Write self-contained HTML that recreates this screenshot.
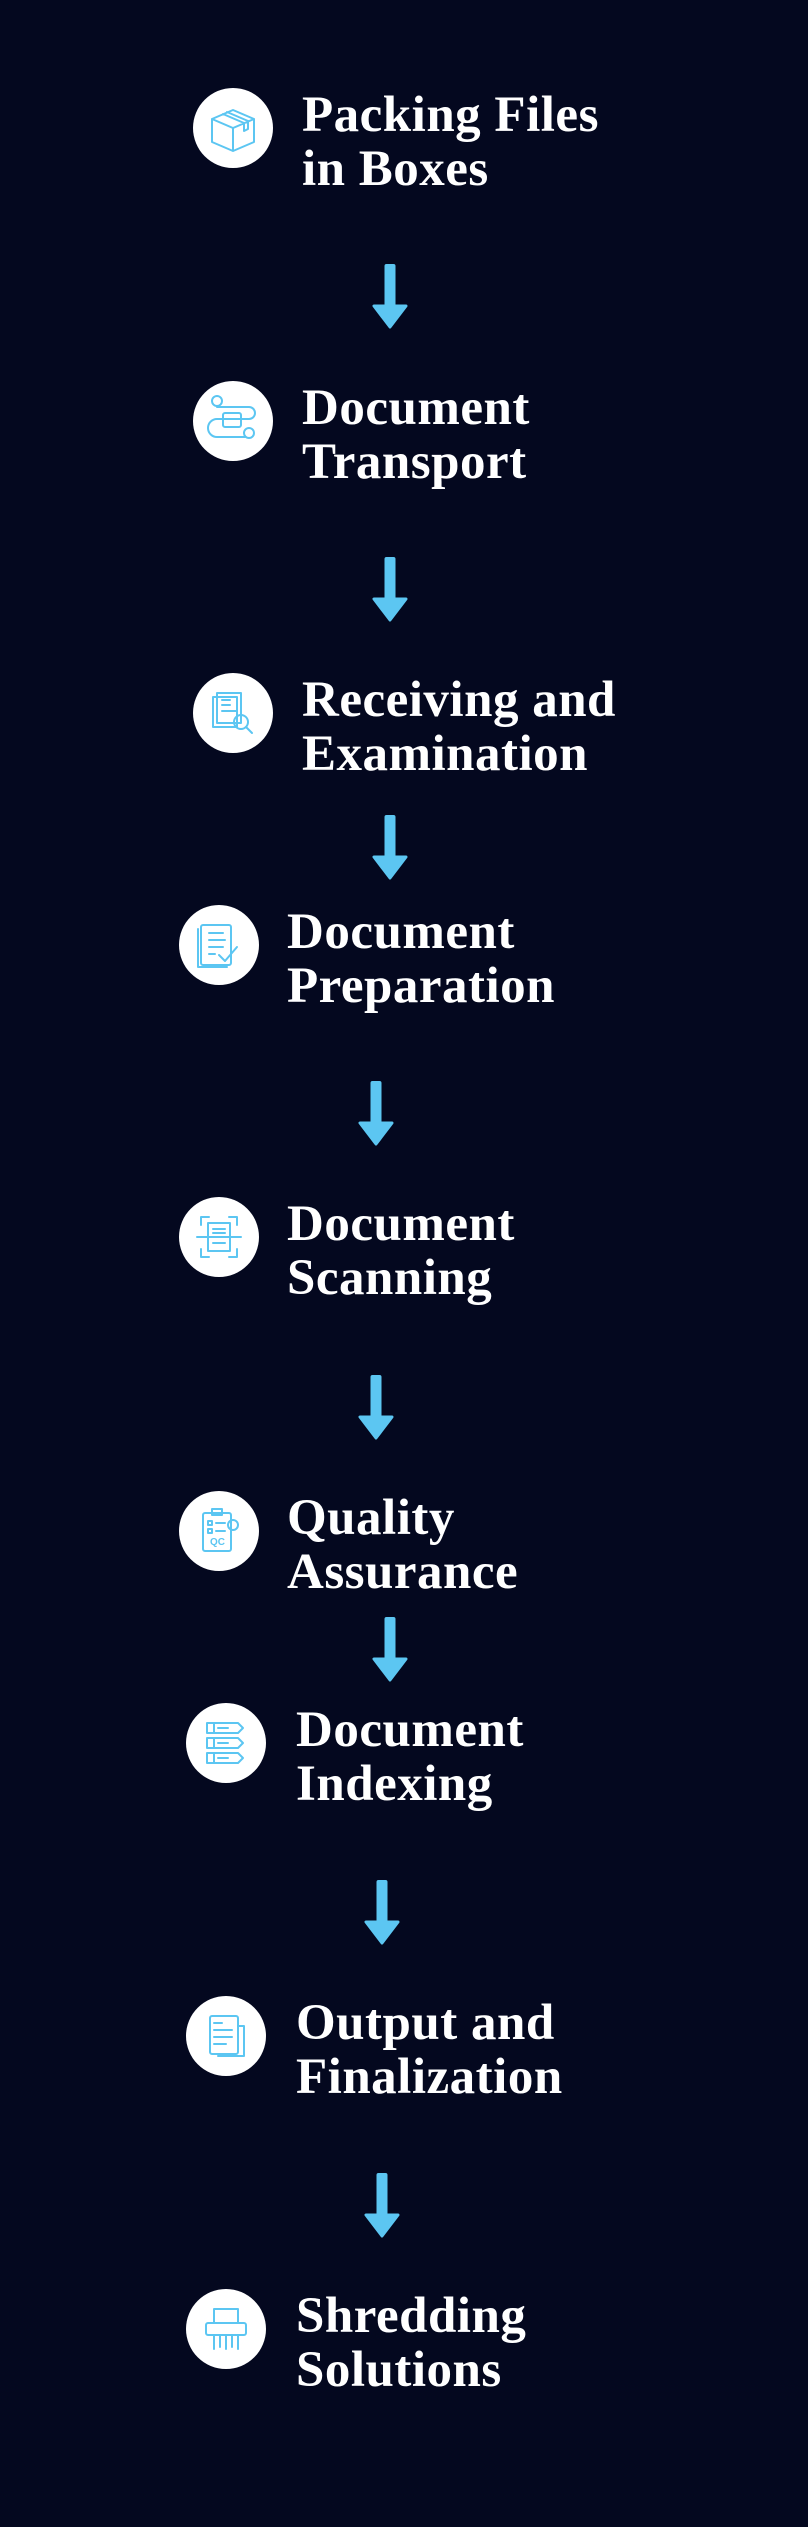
<!DOCTYPE html>
<html><head><meta charset="utf-8"><style>
html,body{margin:0;padding:0;background:#04081f;}
svg{display:block}
text{font-family:"Liberation Serif",serif;font-weight:bold;font-size:51px;fill:#fff;letter-spacing:0.5px}
.ic{fill:none;stroke:#5cc6f2;stroke-width:2;stroke-linejoin:round;stroke-linecap:round}
</style></head><body>
<svg width="808" height="2527" viewBox="0 0 808 2527" xmlns="http://www.w3.org/2000/svg">
<rect width="808" height="2527" fill="#04081f"/>
<defs>
<g id="arr"><rect x="-5.5" y="0" width="11" height="46" rx="2" fill="#5cc6f2"/><path d="M-16,42 L16,42 L0,63 Z" fill="#5cc6f2" stroke="#5cc6f2" stroke-width="3" stroke-linejoin="round"/></g>
</defs>
<!-- arrows -->
<use href="#arr" x="390" y="264"/>
<use href="#arr" x="390" y="557"/>
<use href="#arr" x="390" y="815"/>
<use href="#arr" x="376" y="1081"/>
<use href="#arr" x="376" y="1375"/>
<use href="#arr" x="390" y="1617"/>
<use href="#arr" x="382" y="1880"/>
<use href="#arr" x="382" y="2173"/>

<!-- 1 -->
<circle cx="233" cy="128" r="40" fill="#fff"/>
<g class="ic" transform="translate(233,128)"><path d="M-21,-9 L0,-18 L21,-9 L21,14 L0,23 L-21,14 Z M-21,-9 L0,0 L21,-9 M0,0 L0,23 M-10,-14 L11,-5 L11,3 L15,1 L15,-7 L-6,-16"/></g>
<text x="302" y="131">Packing Files</text><text x="302" y="185">in Boxes</text>
<!-- 2 -->
<circle cx="233" cy="421" r="40" fill="#fff"/>
<g class="ic" transform="translate(233,421)"><path d="M-16,-14 L16,-14 A6,6 0 0 1 16,-2 L-16,-2 A9,9 0 0 0 -16,16 L12,16"/><rect x="-10" y="-8" width="18" height="14" rx="2"/><circle cx="-16" cy="-20" r="5"/><circle cx="16" cy="12" r="5"/></g>
<text x="302" y="424">Document</text><text x="302" y="478">Transport</text>
<!-- 3 -->
<circle cx="233" cy="713" r="40" fill="#fff"/>
<g class="ic" transform="translate(233,713)"><rect x="-16" y="-20" width="24" height="30"/><rect x="-20" y="-16" width="24" height="30"/><path d="M-11,-13 L-3,-13 M-11,-8 L-3,-8 M-11,-2 L3,-2"/><circle cx="8" cy="9" r="7"/><path d="M13,14 L19,20"/></g>
<text x="302" y="716">Receiving and</text><text x="302" y="770">Examination</text>
<!-- 4 -->
<circle cx="219" cy="945" r="40" fill="#fff"/>
<g class="ic" transform="translate(219,945)"><rect x="-18" y="-20" width="30" height="40" rx="2"/><path d="M-21,-16 L-21,22 L8,22 M-10,-12 L4,-12 M-10,-5 L6,-5 M-10,2 L4,2 M-10,9 L-4,9 M0,10 L6,16 L18,2"/></g>
<text x="287" y="948">Document</text><text x="287" y="1002">Preparation</text>
<!-- 5 -->
<circle cx="219" cy="1237" r="40" fill="#fff"/>
<g class="ic" transform="translate(219,1237)"><path d="M-18,-12 L-18,-20 L-10,-20 M10,-20 L18,-20 L18,-12 M18,12 L18,20 L10,20 M-10,20 L-18,20 L-18,12 M-22,0 L22,0"/><rect x="-11" y="-14" width="22" height="28"/><path d="M-6,-8 L6,-8 M-6,-4 L6,-4 M-6,6 L6,6"/></g>
<text x="287" y="1240">Document</text><text x="287" y="1294">Scanning</text>
<!-- 6 -->
<circle cx="219" cy="1531" r="40" fill="#fff"/>
<g class="ic" transform="translate(219,1531)"><rect x="-16" y="-18" width="28" height="38" rx="2"/><rect x="-7" y="-22" width="10" height="6"/><path d="M-11,-10 L-7,-10 L-7,-6 L-11,-6 Z M-3,-8 L6,-8 M-11,-2 L-7,-2 L-7,2 L-11,2 Z M-3,0 L6,0"/><circle cx="14" cy="-6" r="5"/><text x="-9" y="14" style="font-family:'Liberation Sans',sans-serif;font-size:10px;font-weight:bold;fill:#5cc6f2;stroke:none;letter-spacing:0">QC</text></g>
<text x="287" y="1534">Quality</text><text x="287" y="1588">Assurance</text>
<!-- 7 -->
<circle cx="226" cy="1743" r="40" fill="#fff"/>
<g class="ic" transform="translate(226,1743)"><path d="M-19,-20 L12,-20 L17,-15 L12,-10 L-19,-10 Z M-19,-5 L12,-5 L17,0 L12,5 L-19,5 Z M-19,10 L12,10 L17,15 L12,20 L-19,20 Z M-12,-20 L-12,-10 M-12,-5 L-12,5 M-12,10 L-12,20 M-8,-15 L2,-15 M-8,0 L2,0 M-8,15 L2,15"/></g>
<text x="296" y="1746">Document</text><text x="296" y="1800">Indexing</text>
<!-- 8 -->
<circle cx="226" cy="2036" r="40" fill="#fff"/>
<g class="ic" transform="translate(226,2036)"><rect x="-16" y="-20" width="28" height="38" rx="2"/><path d="M-12,-13 L-4,-13 M-12,-6 L6,-6 M-12,1 L6,1 M-12,8 L0,8 M12,-10 L18,-10 L18,20 L-8,20"/></g>
<text x="296" y="2039">Output and</text><text x="296" y="2093">Finalization</text>
<!-- 9 -->
<circle cx="226" cy="2329" r="40" fill="#fff"/>
<g class="ic" transform="translate(226,2329)"><rect x="-20" y="-6" width="40" height="12" rx="2"/><path d="M-12,-6 L-12,-20 L12,-20 L12,-6 M-12,6 L-12,20 M-6,6 L-6,18 M0,6 L0,20 M6,6 L6,18 M12,6 L12,20"/></g>
<text x="296" y="2332">Shredding</text><text x="296" y="2386">Solutions</text>
</svg>
</body></html>
